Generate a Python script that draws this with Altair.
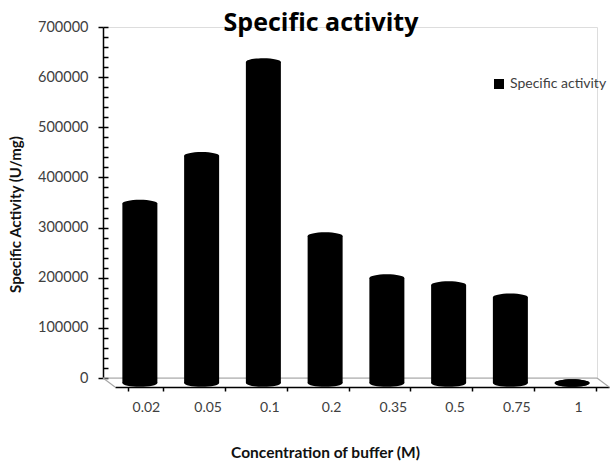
import altair as alt
import pandas as pd

# Buffer concentrations (M) and measured specific activity (U/mg)
concentrations = ["0.02", "0.05", "0.1", "0.2", "0.35", "0.5", "0.75", "1"]
activity = [358000, 453000, 640000, 293000, 209000, 195000, 171000, 0]
series = "Specific activity"

y_ticks = [0, 100000, 200000, 300000, 400000, 500000, 600000, 700000]
y_minor = list(range(0, 700001, 20000))

df = pd.DataFrame({"conc": concentrations, "value": activity, "series": series})

W, H = 494, 351          # back-wall plot area
DX, DY = 12, 9           # depth shift of the floor's front edge
BAR_W = 35
BAR_DX, BAR_DY = 6, 5    # cylinders sit half-way into the depth
FONT = "Lato"

# flat ellipse used for the cylinder caps
ELLIPSE = "M -1 0 A 1 0.22 0 1 0 1 0 A 1 0.22 0 1 0 -1 0 Z"

y_scale = alt.Scale(domain=[0, 700000], nice=False, zero=True)
x_scale = alt.Scale(paddingInner=0.43, paddingOuter=0.215)

x_axis = alt.Axis(
    title="Concentration of buffer (M)", titleFont=FONT, titleFontSize=15.5,
    titleFontWeight="bold", titleColor="#111111", titleX=210, titleY=70,
    titleBaseline="alphabetic", titleAlign="center", titleAnchor="start",
    labelAngle=0, labelFont=FONT, labelFontSize=14, labelColor="#404040",
    labelPadding=9, tickBand="extent", tickSize=4, tickColor="black",
    tickWidth=1.5, domainColor="black", domainWidth=1.5, offset=-3,
    translate=DX + 0.5, grid=False,
)
X = alt.X("conc:N", sort=concentrations, scale=x_scale, axis=x_axis)

main_y_axis = alt.Axis(
    values=y_ticks, format="d", ticks=False, labelPadding=15,
    labelFont=FONT, labelFontSize=14.5, labelColor="#404040",
    domainColor="black", domainWidth=1.5, grid=False, orient="left",
    title="Specific Activity (U/mg)", titleFont=FONT, titleFontSize=15,
    titleFontWeight="bold", titleColor="#111111", titleX=-88, titleY=187,
    titleAngle=270, titleAlign="center", titleBaseline="middle",
)
minor_axis = alt.Axis(
    values=y_minor, labels=False, domain=False, title=None, grid=False,
    tickSize=5, tickColor="black", tickWidth=1.5, offset=-5, orient="left",
)
outer_axis = alt.Axis(
    values=y_ticks, labels=False, domain=False, title=None, grid=False,
    tickSize=5, tickColor="black", tickWidth=1.5, orient="left",
)

base = alt.Chart(df)

# floor: back edge and two depth edges
floor_back = alt.Chart(pd.DataFrame({"z": [0]})).mark_rule(
    color="#a6a6a6", strokeWidth=1.2
).encode(y=alt.Y("z:Q", scale=y_scale, axis=None))
floor_left = alt.Chart(pd.DataFrame({"z": [0]})).mark_rule(
    color="#a6a6a6", strokeWidth=1.2
).encode(x=alt.value(0), x2=alt.value(DX), y=alt.value(H), y2=alt.value(H + DY))
floor_right = alt.Chart(pd.DataFrame({"z": [0]})).mark_rule(
    color="#a6a6a6", strokeWidth=1.2
).encode(x=alt.value(W), x2=alt.value(W + DX), y=alt.value(H), y2=alt.value(H + DY))

bars = base.mark_bar(
    size=BAR_W, xOffset=BAR_DX, yOffset=BAR_DY, y2Offset=BAR_DY
).encode(
    x=X,
    y=alt.Y("value:Q", scale=y_scale, axis=main_y_axis),
    y2=alt.datum(0),
    color=alt.Color(
        "series:N", scale=alt.Scale(range=["black"]),
        legend=alt.Legend(
            title=None, orient="none", legendX=389, legendY=50,
            symbolType="square", symbolSize=100, symbolFillColor="black",
            symbolStrokeWidth=0, labelFont=FONT, labelFontSize=14,
            labelColor="#404040", labelOffset=4, padding=0,
        ),
    ),
)

top_caps = base.mark_point(
    shape=ELLIPSE, size=BAR_W * BAR_W, filled=True, color="black",
    opacity=1, xOffset=BAR_DX, yOffset=BAR_DY,
).encode(
    x=X,
    y=alt.Y("value:Q", scale=y_scale, axis=minor_axis),
)

bottom_caps = base.mark_point(
    shape=ELLIPSE, size=BAR_W * BAR_W, filled=True, color="black",
    opacity=1, xOffset=BAR_DX, yOffset=BAR_DY,
).encode(
    x=X,
    y=alt.Y("zero:Q", scale=y_scale, axis=outer_axis),
).transform_calculate(zero="0")

chart = alt.layer(
    floor_back, floor_left, floor_right, bottom_caps, bars, top_caps
).resolve_axis(y="independent").properties(
    width=W, height=H,
    padding={"left": 103, "top": 27, "right": 13, "bottom": 83},
    autosize=alt.AutoSizeParams(type="none"),
    title=alt.TitleParams(
        "Specific activity", font="Open Sans", fontSize=25, fontWeight="bold",
        color="black", anchor="middle", frame="group", dx=-29, dy=31,
        offset=-6, baseline="alphabetic",
    ),
).configure_view(stroke=None).configure(background="white")

chart.save("out.html", embed_options={"renderer": "svg", "actions": False})
